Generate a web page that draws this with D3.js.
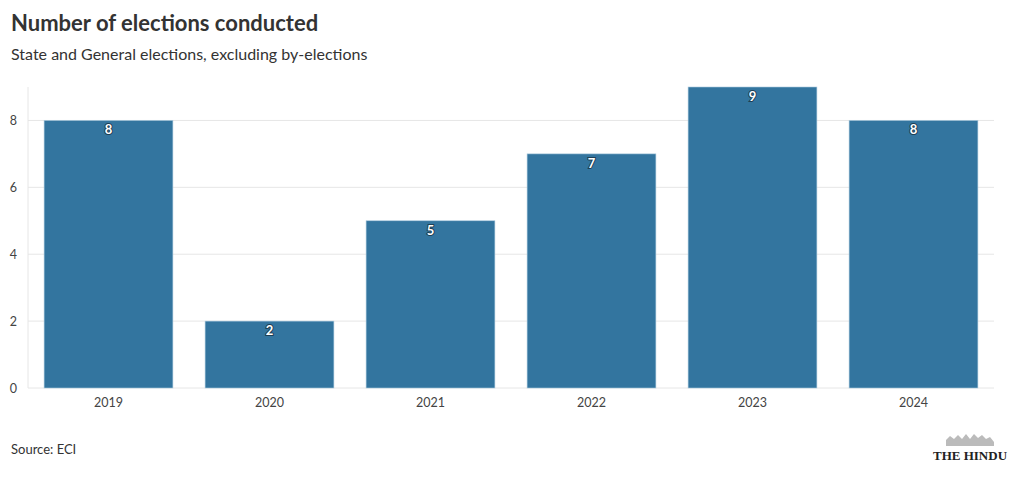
<!DOCTYPE html>
<html>
<head>
<meta charset="utf-8">
<script src="https://cdn.jsdelivr.net/npm/d3@7"></script>
<style>
  body { margin: 0; background: #fff; font-family: "Lato", "Noto Sans", sans-serif; }
  .tick text { fill: #444; font-size: 12.5px; font-family: "Lato", "Noto Sans", sans-serif; }
</style>
</head>
<body>
<div id="chart"></div>
<script>
width = 1020;
height = 478;

// data
var years = ["2019", "2020", "2021", "2022", "2023", "2024"];
var elections = [8, 2, 5, 7, 9, 8];
var yTicks = [0, 2, 4, 6, 8];

var plotLeft = 28, plotRight = 994, plotTop = 87, plotBottom = 388;

var svg = d3.select("#chart")
    .append("svg")
    .attr("width", width)
    .attr("height", height);

// title and subtitle
svg.append("text")
    .attr("x", 11).attr("y", 31)
    .style("font-size", "22px").style("font-weight", "bold")
    .style("fill", "#333")
    .text("Number of elections conducted");

svg.append("text")
    .attr("x", 11).attr("y", 60)
    .style("font-size", "16px")
    .style("fill", "#333")
    .text("State and General elections, excluding by-elections");

var x = d3.scaleBand()
    .domain(years)
    .range([plotLeft, plotRight])
    .paddingInner(0.2)
    .paddingOuter(0.1);

var y = d3.scaleLinear()
    .domain([0, 9])
    .range([plotBottom, plotTop]);

// grid lines
svg.append("g")
    .selectAll("line")
    .data(yTicks)
    .enter()
    .append("line")
    .attr("x1", plotLeft).attr("x2", plotRight)
    .attr("y1", d => y(d)).attr("y2", d => y(d))
    .style("stroke", "#e6e6e6").style("stroke-width", 1);

svg.append("line")
    .attr("x1", plotLeft).attr("x2", plotLeft)
    .attr("y1", plotTop).attr("y2", plotBottom)
    .style("stroke", "#e6e6e6");

// y axis
var yAxis = d3.axisLeft(y).tickValues(yTicks).tickSize(0).tickPadding(11);
svg.append("g")
    .attr("transform", "translate(" + plotLeft + ",0)")
    .call(yAxis)
    .call(g => g.select(".domain").remove());

// x axis
var xAxis = d3.axisBottom(x).tickSize(0).tickPadding(10);
svg.append("g")
    .attr("transform", "translate(0," + plotBottom + ")")
    .call(xAxis)
    .call(g => g.select(".domain").remove());

// bars
svg.selectAll(".bar")
    .data(elections)
    .enter()
    .append("rect")
    .attr("class", "bar")
    .attr("x", (d, i) => x(years[i]))
    .attr("y", d => y(d))
    .attr("width", x.bandwidth())
    .attr("height", d => y(0) - y(d))
    .style("fill", "#33759f")
    .style("stroke", "#a9c8dc")
    .style("stroke-width", 0.6);

// value labels
svg.selectAll(".lbl")
    .data(elections)
    .enter()
    .append("text")
    .attr("class", "lbl")
    .attr("x", (d, i) => x(years[i]) + x.bandwidth() / 2)
    .attr("y", d => y(d) + 14)
    .attr("text-anchor", "middle")
    .style("font-size", "13px").style("font-weight", "bold")
    .style("fill", "#fff")
    .style("stroke", "#1d3f55").style("stroke-width", 2)
    .style("paint-order", "stroke")
    .text(d => d);

// source
svg.append("text")
    .attr("x", 11).attr("y", 454)
    .style("font-size", "13px").style("fill", "#333")
    .text("Source: ECI");

// logo
var logo = svg.append("g").attr("transform", "translate(970,448)");
logo.append("path")
    .attr("d", "M-24,-2 L-24,-8 L-20,-12 L-16,-9 L-12,-13 L-8,-9 L-4,-14 L0,-9 L4,-14 L8,-10 L12,-13 L16,-9 L20,-11 L24,-6 L24,-2 Z")
    .style("fill", "#bbb");
logo.append("text")
    .attr("x", 0).attr("y", 12)
    .attr("text-anchor", "middle")
    .style("font-family", "'Liberation Serif', 'DejaVu Serif', serif")
    .style("font-size", "13px").style("font-weight", "bold")
    .style("fill", "#222")
    .text("THE HINDU");
</script>
</body>
</html>
